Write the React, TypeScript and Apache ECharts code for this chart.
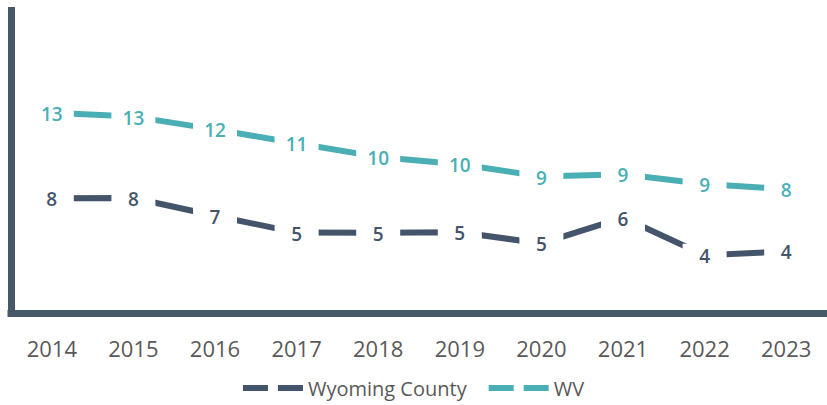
import React, { useEffect, useRef } from "react";
import * as echarts from "echarts";

const years = ["2014", "2015", "2016", "2017", "2018", "2019", "2020", "2021", "2022", "2023"];
const wyomingCounty = [7.68, 7.7, 6.53, 5.42, 5.41, 5.44, 4.71, 6.41, 3.93, 4.19];
const wv = [13.3, 13.05, 12.21, 11.3, 10.4, 9.92, 9.11, 9.26, 8.62, 8.28];

const DARK = "#44546A";
const TEAL = "#4AAFB5";
const AXIS = "#475868";
const GRAY = "#595959";
const FONT = "'Open Sans', 'Noto Sans', sans-serif";

const legendIcon = "path://M0,0H25V6H0Z M35,0H60V6H35Z";

function makeSeries(name: string, data: number[], color: string) {
  return {
    name,
    type: "line",
    data,
    symbol: "circle",
    symbolSize: 2,
    itemStyle: { color },
    lineStyle: { color, width: 6, cap: "butt" },
    label: {
      show: true,
      position: "inside",
      offset: [0, 1],
      formatter: (p: any) => String(Math.round(p.value)),
      color,
      fontFamily: FONT,
      fontSize: 19,
      fontWeight: 600,
      backgroundColor: "#ffffff",
      width: 26,
      align: "center",
      padding: [3, 9, 3, 9],
    },
    emphasis: { disabled: true },
  };
}

export default function App() {
  const ref = useRef<HTMLDivElement>(null);
  useEffect(() => {
    if (!ref.current) return;
    const chart = echarts.init(ref.current, null, { renderer: "svg" });
    chart.setOption({
      animation: false,
      backgroundColor: "#ffffff",
      grid: { left: 11, right: -9.75, top: 10.5, bottom: 91.5, containLabel: false },
      legend: {
        left: "center",
        top: 373,
        itemWidth: 60,
        itemHeight: 6,
        itemGap: 22,
        textStyle: { fontFamily: FONT, fontSize: 20, color: GRAY },
        data: [
          { name: "Wyoming County", icon: legendIcon },
          { name: "WV", icon: legendIcon },
        ],
      },
      xAxis: {
        type: "category",
        data: years,
        boundaryGap: true,
        axisLine: { show: true, lineStyle: { color: AXIS, width: 7, cap: "square" } },
        axisTick: { show: false },
        axisLabel: { color: GRAY, fontFamily: FONT, fontSize: 22, margin: 23 },
        splitLine: { show: false },
      },
      yAxis: {
        type: "value",
        min: 0.1,
        max: 20.03,
        axisLine: { show: true, lineStyle: { color: AXIS, width: 7, cap: "square" } },
        axisTick: { show: false },
        axisLabel: { show: false },
        splitLine: { show: false },
      },
      series: [
        makeSeries("Wyoming County", wyomingCounty, DARK),
        makeSeries("WV", wv, TEAL),
      ],
    });
    return () => chart.dispose();
  }, []);
  return (
    <div
      ref={ref}
      style={{ position: "fixed", left: 0, top: 0, width: 827, height: 405 }}
    />
  );
}
